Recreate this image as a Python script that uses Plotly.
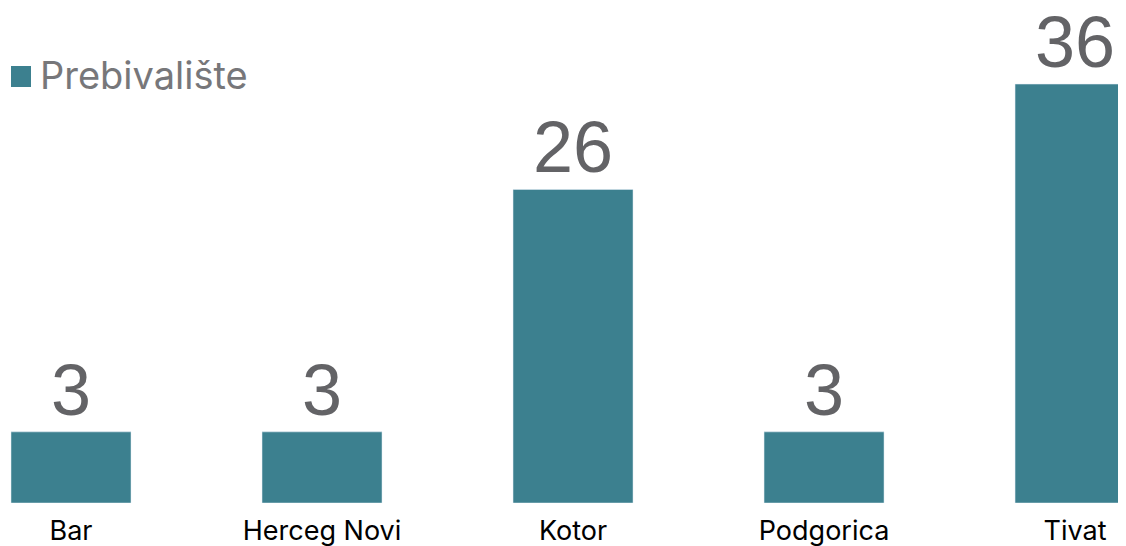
import plotly.graph_objects as go

categories = ["Bar", "Herceg Novi", "Kotor", "Podgorica", "Tivat"]
values = [3, 3, 26, 3, 36]
series_name = "Prebivalište"

y_min = -3.75
y_max = 43.22
bar_color = "#3c808f"

fig = go.Figure()
fig.add_trace(go.Bar(
    x=categories,
    y=[v - y_min for v in values],
    base=y_min,
    name=series_name,
    marker=dict(color=bar_color),
    width=0.478,
    cliponaxis=False,
    hoverinfo="skip",
    showlegend=False,
))

# value labels above bars
for c, v in zip(categories, values):
    fig.add_annotation(
        x=c, y=v, xref="x", yref="y", text=str(v), showarrow=False,
        yanchor="bottom", xanchor="center", yshift=0,
        font=dict(family="Liberation Sans, Arial, sans-serif", size=72, color="#636366"),
    )

# legend (manual, to match large square marker)
fig.add_shape(type="rect", xref="paper", yref="paper",
              x0=3 / 1118, x1=23 / 1118, y0=1 - 79 / 495, y1=1 - 58 / 495,
              fillcolor=bar_color, line=dict(width=0))
fig.add_annotation(x=30 / 1118, y=1 - 67 / 495, xref="paper", yref="paper",
                   text=series_name, showarrow=False, xanchor="left", yanchor="middle",
                   font=dict(family="Inter, Lato, sans-serif", size=38, color="#77777a"))

fig.update_layout(
    width=1118, height=538,
    margin=dict(l=0, r=0, t=0, b=43),
    paper_bgcolor="white", plot_bgcolor="white",
    showlegend=False,
    xaxis=dict(range=[-0.251, 4.203], showgrid=False, zeroline=False,
               showline=False, ticks="", ticklabelstandoff=9,
               tickfont=dict(family="Inter, Lato, sans-serif", size=27, color="#000000")),
    yaxis=dict(range=[y_min, y_max], visible=False),
)

fig.write_html("out.html")
